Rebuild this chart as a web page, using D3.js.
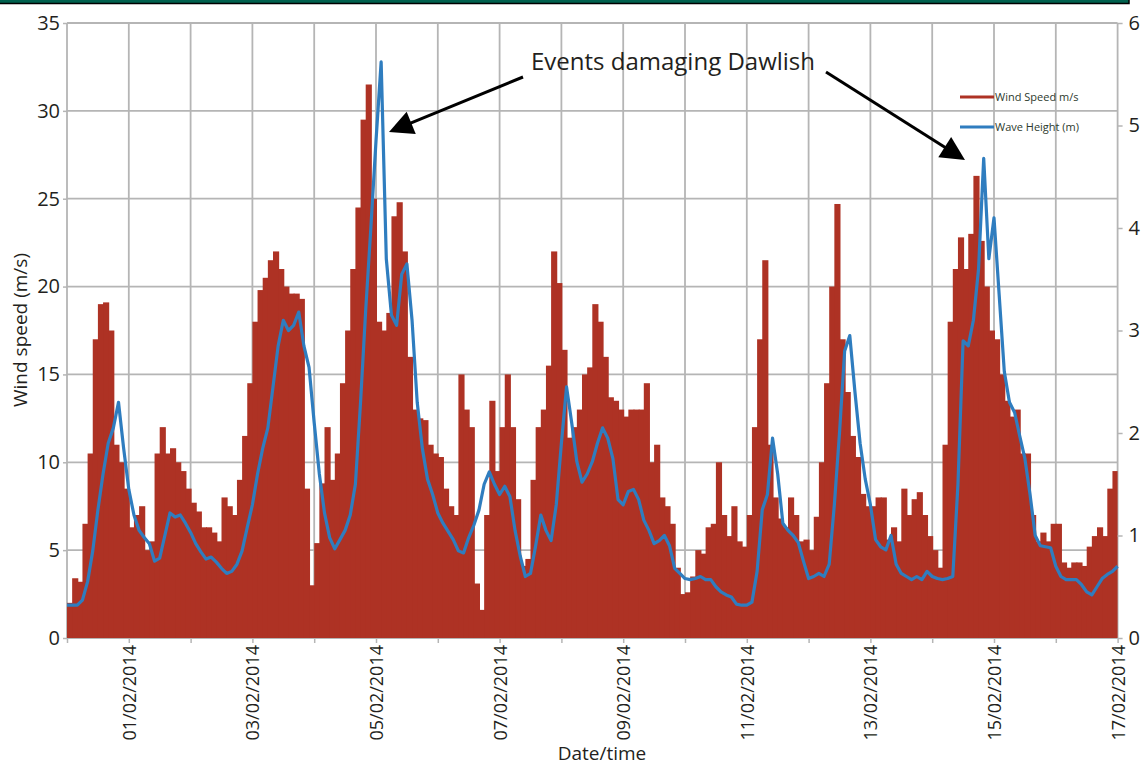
<!DOCTYPE html>
<html><head><meta charset="utf-8">
<script src="https://cdn.jsdelivr.net/npm/d3@7"></script>
<style>
body{margin:0;background:#fff}
svg{display:block}
text{font-family:"Open Sans",sans-serif;fill:#231f20}
</style>
</head><body>
<svg id="chart" width="1144" height="767"></svg>
<script>
// Wind speed (m/s), 2-hourly from 31/01/2014 00:00
const windSpeed = [
  2.0, 3.4, 3.2, 6.5, 10.5, 17.0, 19.0, 19.1, 17.5, 11.0, 10.0, 8.5,
  6.3, 7.0, 7.5, 5.0, 5.5, 10.5, 12.0, 10.5, 10.8, 10.0, 9.5, 8.5,
  7.7, 7.2, 6.3, 6.3, 6.0, 5.5, 8.0, 7.5, 7.0, 9.0, 11.5, 14.5,
  18.0, 19.8, 20.5, 21.5, 22.0, 21.0, 20.0, 19.6, 19.6, 19.3, 8.5, 3.0,
  5.4, 8.8, 12.0, 9.0, 10.5, 14.5, 17.5, 21.0, 24.5, 29.5, 31.5, 25.0,
  18.0, 17.5, 18.5, 24.0, 24.8, 22.0, 16.0, 13.0, 12.5, 12.4, 11.0, 10.5,
  10.3, 8.5, 7.5, 7.0, 15.0, 13.0, 12.0, 3.1, 1.6, 7.0, 13.5, 9.5,
  12.0, 15.0, 12.0, 7.9, 4.1, 4.5, 9.0, 12.0, 13.0, 15.5, 22.0, 20.2,
  16.4, 11.4, 12.0, 13.0, 15.0, 15.4, 19.0, 18.0, 16.0, 13.7, 13.5, 13.0,
  12.6, 13.0, 13.0, 13.0, 14.5, 10.0, 11.0, 8.0, 7.5, 6.5, 4.0, 2.5,
  2.6, 3.5, 5.0, 4.8, 6.3, 6.5, 10.0, 7.0, 5.8, 7.5, 5.5, 5.2,
  7.0, 12.0, 17.0, 21.5, 11.0, 8.0, 6.8, 6.3, 8.0, 7.0, 5.5, 5.6,
  5.0, 6.9, 10.0, 14.5, 20.0, 24.7, 17.0, 14.0, 11.5, 10.3, 8.2, 7.5,
  7.5, 8.0, 8.0, 5.6, 6.3, 5.5, 8.5, 7.0, 7.9, 8.3, 7.0, 5.8,
  5.0, 4.0, 11.0, 18.0, 21.0, 22.8, 21.0, 23.0, 26.3, 22.6, 20.0, 17.5,
  17.0, 15.0, 13.5, 12.6, 13.0, 10.5, 10.5, 7.0, 5.5, 6.0, 5.5, 6.5,
  6.5, 4.3, 4.0, 4.3, 4.3, 4.1, 5.2, 5.8, 6.3, 5.8, 8.5, 9.5
];
// Wave height (m), 2-hourly from 31/01/2014 00:00 to 17/02/2014 00:00
const waveHeight = [
  0.32, 0.32, 0.32, 0.37, 0.55, 0.85, 1.25, 1.6, 1.9, 2.05, 2.3, 1.85,
  1.45, 1.2, 1.05, 0.98, 0.92, 0.75, 0.78, 1.0, 1.22, 1.18, 1.2, 1.12,
  1.03, 0.92, 0.84, 0.77, 0.79, 0.74, 0.68, 0.63, 0.65, 0.72, 0.85, 1.08,
  1.3, 1.6, 1.85, 2.05, 2.45, 2.85, 3.1, 3.0, 3.05, 3.18, 2.85, 2.64,
  2.1, 1.6, 1.22, 0.98, 0.87, 0.96, 1.05, 1.2, 1.5, 2.3, 3.2, 4.0,
  4.85, 5.62, 3.7, 3.15, 3.05, 3.55, 3.65, 3.1, 2.3, 1.85, 1.55, 1.4,
  1.22, 1.12, 1.04, 0.96, 0.85, 0.83, 0.98, 1.1, 1.25, 1.5, 1.62, 1.5,
  1.4, 1.48, 1.38, 1.05, 0.8, 0.6, 0.63, 0.9, 1.2, 1.05, 0.95, 1.3,
  1.9, 2.45, 2.1, 1.72, 1.52, 1.6, 1.72, 1.9, 2.05, 1.95, 1.75, 1.35,
  1.3, 1.43, 1.45, 1.35, 1.15, 1.05, 0.92, 0.95, 1.0, 0.9, 0.68, 0.63,
  0.58, 0.57, 0.58, 0.6, 0.57, 0.57, 0.5, 0.45, 0.42, 0.4, 0.33, 0.32,
  0.32, 0.35, 0.65, 1.25, 1.4, 1.95, 1.6, 1.12, 1.05, 1.0, 0.93, 0.75,
  0.58, 0.6, 0.63, 0.6, 0.72, 1.3, 2.0, 2.8, 2.95, 2.4, 1.9, 1.55,
  1.3, 0.96, 0.89, 0.86, 1.0, 0.72, 0.63, 0.6, 0.57, 0.6, 0.57, 0.65,
  0.6, 0.58, 0.57, 0.58, 0.6, 1.5, 2.9, 2.85, 3.1, 3.6, 4.68, 3.7,
  4.1, 3.35, 2.6, 2.3, 2.2, 1.97, 1.75, 1.4, 1.0, 0.9, 0.89, 0.88,
  0.7, 0.6, 0.57, 0.57, 0.57, 0.52, 0.45, 0.42, 0.5, 0.58, 0.62, 0.65, 0.7
];
const startTime = "31/01/2014";
const endTime = "17/02/2014";
const stepHours = 2;
const windTicks = [0, 5, 10, 15, 20, 25, 30, 35];
const waveTicks = [0, 1, 2, 3, 4, 5, 6];
const dateLabels = ["01/02/2014","03/02/2014","05/02/2014","07/02/2014","09/02/2014","11/02/2014","13/02/2014","15/02/2014","17/02/2014"];
const seriesNames = ["Wind Speed m/s", "Wave Height (m)"];
const annotation = "Events damaging Dawlish";

const parse = d3.timeParse("%d/%m/%Y");
const t0 = parse(startTime), t1 = parse(endTime);
const timeAt = i => d3.timeHour.offset(t0, i * stepHours);

const L = 67, R = 1117.6, T = 23, B = 638;
const x = d3.scaleTime().domain([t0, t1]).range([L, R]);
const yL = d3.scaleLinear().domain([0, 35]).range([B, T]);
const yR = d3.scaleLinear().domain([0, 6]).range([B, T]);

const svg = d3.select("#chart");
const RED = "#ae3224", BLUE = "#2f7dbf", GRID = "#b5b5b5";

// top frame band
svg.append("rect").attr("x", -2).attr("y", -2).attr("width", 1131).attr("height", 5.5)
  .attr("fill", "#00614e").attr("stroke", "#000").attr("stroke-width", 1.5);

// grid
const days = d3.timeDay.range(t0, d3.timeDay.offset(t1, 1));
svg.append("g").selectAll("line").data(days).join("line")
  .attr("x1", d => x(d)).attr("x2", d => x(d)).attr("y1", T).attr("y2", B)
  .attr("stroke", GRID).attr("stroke-width", 1.8);
svg.append("g").selectAll("line").data(windTicks).join("line")
  .attr("x1", L).attr("x2", R).attr("y1", d => yL(d)).attr("y2", d => yL(d))
  .attr("stroke", GRID).attr("stroke-width", 1.8);

// wind bars
svg.append("g").selectAll("rect").data(windSpeed).join("rect")
  .attr("x", (d, i) => x(timeAt(i)))
  .attr("width", (d, i) => Math.min(x(timeAt(i + 1)) - x(timeAt(i)) + 1, R - x(timeAt(i))))
  .attr("y", d => yL(d)).attr("height", d => B - yL(d))
  .attr("fill", RED);

// wave line
const line = d3.line().x((d, i) => x(timeAt(i))).y(d => yR(d)).curve(d3.curveLinear);
svg.append("path").datum(waveHeight).attr("d", line)
  .attr("fill", "none").attr("stroke", BLUE).attr("stroke-width", 3.2).attr("stroke-linejoin", "round");

// axes
const axL = svg.append("g").attr("transform", `translate(${L},0)`)
  .call(d3.axisLeft(yL).tickValues(windTicks).tickFormat(d3.format("d")).tickSize(4).tickPadding(3));
const axR = svg.append("g").attr("transform", `translate(${R},0)`)
  .call(d3.axisRight(yR).tickValues(waveTicks).tickFormat(d3.format("d")).tickSize(5).tickPadding(6));
const labelDates = dateLabels.map(parse);
const axB = svg.append("g").attr("transform", `translate(0,${B})`)
  .call(d3.axisBottom(x).tickValues(days).tickSize(5)
    .tickFormat(d => labelDates.some(l => +l === +d) ? d3.timeFormat("%d/%m/%Y")(d) : ""));
[axL, axR, axB].forEach(a => {
  a.select(".domain").remove();
  a.selectAll(".tick line").attr("stroke", GRID).attr("stroke-width", 1.5);
  a.selectAll("text").attr("fill", "#231f20").style("font-family", '"Open Sans", sans-serif');
});
axL.selectAll("text").style("font-size", "20px");
axR.selectAll("text").style("font-size", "20px");
axB.selectAll("text").style("font-size", "18px")
  .attr("transform", "rotate(-90)").attr("text-anchor", "end")
  .attr("x", -7).attr("y", 0).attr("dy", "0.36em");

// axis titles
svg.append("text").attr("transform", "translate(27,330) rotate(-90)")
  .attr("text-anchor", "middle").style("font-size", "19px").text("Wind speed (m/s)");
svg.append("text").attr("x", 602).attr("y", 760)
  .attr("text-anchor", "middle").style("font-size", "19px").text("Date/time");

// legend
const legend = svg.append("g");
[[RED, 97], [BLUE, 127]].forEach((c, i) => {
  legend.append("line").attr("x1", 960).attr("x2", 994).attr("y1", c[1]).attr("y2", c[1])
    .attr("stroke", c[0]).attr("stroke-width", 3);
  legend.append("text").attr("x", 995).attr("y", c[1]).attr("dy", "0.35em")
    .style("font-size", "11px").style("fill", "#2d3a2d").text(seriesNames[i]);
});

// annotation
svg.append("text").attr("x", 531).attr("y", 70).style("font-size", "24px").text(annotation);
function arrow(x1, y1, x2, y2) {
  const dx = x2 - x1, dy = y2 - y1, n = Math.hypot(dx, dy), ux = dx / n, uy = dy / n;
  const hl = 24, hw = 12;
  const bx = x2 - ux * hl, by = y2 - uy * hl;
  svg.append("line").attr("x1", x1).attr("y1", y1).attr("x2", bx + ux * 2).attr("y2", by + uy * 2)
    .attr("stroke", "#000").attr("stroke-width", 3);
  svg.append("path").attr("d", `M${x2},${y2}L${bx - uy * hw},${by + ux * hw}L${bx + uy * hw},${by - ux * hw}Z`)
    .attr("fill", "#000");
}
arrow(523, 77, 389, 132);
arrow(826, 72, 965, 160);
</script>
</body></html>
